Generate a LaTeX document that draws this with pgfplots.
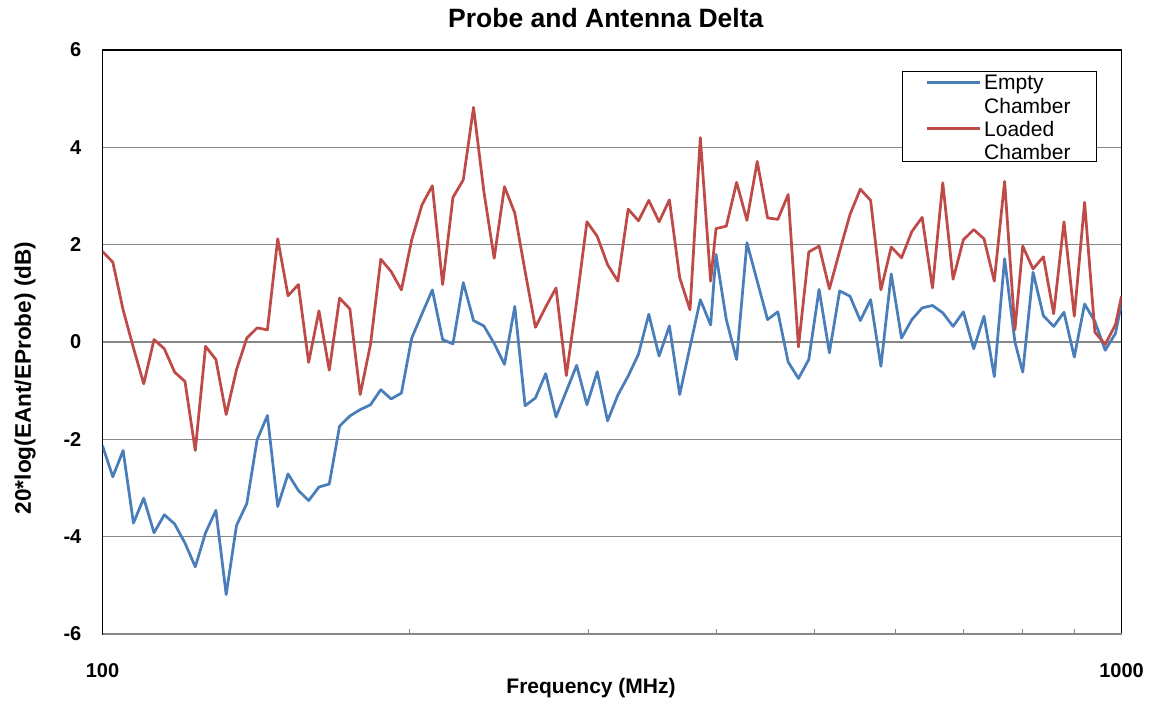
\documentclass[border=0pt]{standalone}
\usepackage{pgfplots}
\pgfplotsset{compat=1.18}
\usepackage{pgfplotstable}
\usepackage{fontspec}
\setmainfont{Liberation Sans}
\definecolor{emptyc}{HTML}{4A7EBB}
\definecolor{loadedc}{HTML}{BE4B48}
\definecolor{gridgray}{HTML}{868686}

% lx = log10(frequency in MHz), e = Empty Chamber, l = Loaded Chamber
\pgfplotstableread{
lx e l
2.00000 -2.13 1.86
2.01012 -2.77 1.64
2.02023 -2.23 0.66
2.03035 -3.72 -0.12
2.04046 -3.21 -0.86
2.05058 -3.92 0.05
2.06069 -3.55 -0.14
2.07081 -3.74 -0.62
2.08092 -4.13 -0.81
2.09104 -4.62 -2.23
2.10115 -3.92 -0.09
2.11127 -3.46 -0.36
2.12138 -5.19 -1.49
2.13150 -3.77 -0.57
2.14161 -3.32 0.08
2.15173 -2.01 0.29
2.16184 -1.51 0.25
2.17196 -3.38 2.12
2.18207 -2.71 0.95
2.19219 -3.05 1.18
2.20230 -3.26 -0.42
2.21242 -2.98 0.64
2.22253 -2.92 -0.58
2.23265 -1.73 0.90
2.24276 -1.52 0.68
2.25288 -1.39 -1.08
2.26299 -1.29 -0.05
2.27311 -0.98 1.70
2.28322 -1.17 1.45
2.29334 -1.05 1.07
2.30345 0.08 2.10
2.31357 0.58 2.82
2.32368 1.07 3.21
2.33380 0.05 1.18
2.34391 -0.04 2.97
2.35403 1.22 3.33
2.36414 0.44 4.82
2.37426 0.33 3.09
2.38437 -0.03 1.72
2.39449 -0.46 3.19
2.40460 0.73 2.65
2.41472 -1.31 1.45
2.42483 -1.15 0.30
2.43495 -0.65 0.72
2.44506 -1.54 1.11
2.45518 -1.01 -0.69
2.46529 -0.48 0.83
2.47541 -1.29 2.47
2.48552 -0.61 2.17
2.49564 -1.62 1.59
2.50575 -1.09 1.25
2.51587 -0.70 2.73
2.52598 -0.25 2.49
2.53610 0.57 2.91
2.54621 -0.29 2.47
2.55633 0.33 2.92
2.56644 -1.08 1.32
2.57656 -0.10 0.66
2.58667 0.87 4.20
2.59679 0.35 1.25
2.60206 1.80 2.33
2.61218 0.46 2.38
2.62229 -0.36 3.28
2.63241 2.04 2.50
2.64252 1.25 3.71
2.65264 0.46 2.55
2.66275 0.62 2.52
2.67287 -0.41 3.03
2.68298 -0.75 -0.10
2.69310 -0.36 1.85
2.70321 1.08 1.97
2.71333 -0.22 1.09
2.72344 1.05 1.87
2.73356 0.94 2.62
2.74367 0.44 3.14
2.75379 0.87 2.91
2.76390 -0.50 1.07
2.77402 1.40 1.95
2.78413 0.08 1.73
2.79425 0.46 2.27
2.80436 0.70 2.56
2.81448 0.75 1.11
2.82459 0.60 3.27
2.83471 0.32 1.29
2.84482 0.62 2.10
2.85494 -0.14 2.31
2.86505 0.53 2.12
2.87517 -0.71 1.25
2.88528 1.71 3.30
2.89540 0.00 0.25
2.90309 -0.62 1.97
2.91321 1.43 1.50
2.92332 0.54 1.75
2.93344 0.32 0.58
2.94355 0.61 2.47
2.95367 -0.31 0.53
2.96378 0.78 2.87
2.97390 0.42 0.20
2.98401 -0.17 -0.05
2.99413 0.18 0.36
3.00000 0.80 0.94
}\datatable

\begin{document}
\begin{tikzpicture}[x=1bp,y=1bp]
\useasboundingbox (0,0) rectangle (1152,706);
\begin{axis}[
  at={(102.5bp,72bp)}, anchor=south west,
  scale only axis, width=1019bp, height=584bp,
  xmin=2, xmax=3, ymin=-6, ymax=6,
  xtick={2,3}, xticklabels={100,1000},
  minor xtick={2.30103,2.47712,2.60206,2.69897,2.77815,2.84510,2.90309,2.95424},
  ytick={-6,-4,-2,0,2,4,6},
  ymajorgrids,
  major grid style={gridgray, line width=1.5bp},
  tick align=inside,
  xtick pos=bottom, ytick pos=left,
  major tick length=0pt,
  minor tick length=5bp,
  minor tick style={gridgray, line width=1bp},
  axis line style={black, line width=1.5bp},
  /pgf/number format/assume math mode=true,
  tick label style={font=\fontsize{20bp}{24bp}\selectfont\bfseries, inner sep=0pt},
  yticklabel style={anchor=east, xshift=-21bp},
  xticklabel style={anchor=north, yshift=-29bp},
  every axis title shift=0pt,
  title={Probe and Antenna Delta},
  title style={at={(axis description cs:0.4939,1.0389)}, anchor=base, inner sep=0pt,
    font=\fontsize{26.5bp}{30bp}\selectfont\bfseries},
  xlabel={Frequency (MHz)},
  xlabel style={at={(axis description cs:0.4794,-0.1027)}, anchor=base, inner sep=0pt,
    font=\fontsize{21bp}{25bp}\selectfont\bfseries},
  ylabel={20*log(EAnt/EProbe) (dB)},
  ylabel style={at={(axis description cs:-0.07017,0.4384)}, anchor=base, inner sep=0pt,
    font=\fontsize{22.6bp}{26bp}\selectfont\bfseries},
  after end axis/.code={\draw[gridgray, line width=1.5bp] (rel axis cs:0,0) -- (rel axis cs:1,0);},
]
\addplot[emptyc, line width=2.75bp, line join=round] table[x=lx, y=e] {\datatable};
\addplot[loadedc, line width=2.75bp, line join=round] table[x=lx, y=l] {\datatable};
\end{axis}
% legend
\draw[black, line width=1.5bp, fill=white] (902.7,634.3) rectangle (1096.7,544.3);
\draw[emptyc, line width=2.75bp] (927,623.3) -- (980,623.3);
\draw[loadedc, line width=2.75bp] (927,577.7) -- (980,577.7);
\begin{scope}[every node/.style={anchor=base west, inner sep=0pt, font=\fontsize{21bp}{24bp}\selectfont}]
\node at (984,616.7) {Empty};
\node at (984,592.0) {Chamber};
\node at (984,569.7) {Loaded};
\node at (984,546.7) {Chamber};
\end{scope}
\end{tikzpicture}
\end{document}
